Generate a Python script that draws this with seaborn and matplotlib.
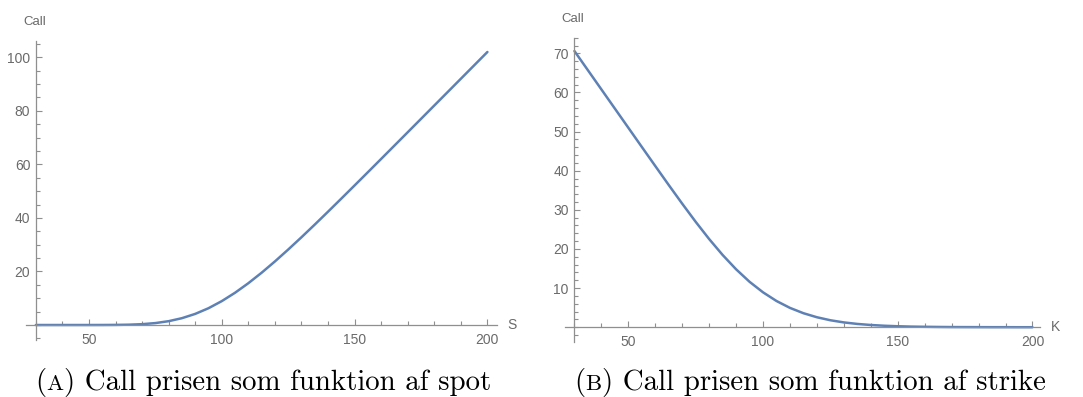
import matplotlib
matplotlib.use("Agg")
import matplotlib.pyplot as plt
import seaborn as sns
from matplotlib.ticker import FixedLocator, MultipleLocator
from matplotlib.offsetbox import TextArea, HPacker, AnnotationBbox

# Call price against spot (strike fixed at 100)
spot = [30, 35, 40, 45, 50, 55, 60, 65, 70, 75, 80, 85, 90, 95, 100,
        105, 110, 115, 120, 125, 130, 135, 140, 145, 150, 155, 160, 165,
        170, 175, 180, 185, 190, 195, 200]
call_spot = [0.0, 0.0, 0.0, 0.0, 0.0, 0.01, 0.04, 0.12, 0.31, 0.72, 1.43,
             2.55, 4.15, 6.27, 8.92, 12.05, 15.61, 19.53, 23.74, 28.18,
             32.78, 37.51, 42.33, 47.21, 52.13, 57.07, 62.04, 67.02, 72.00,
             76.99, 81.99, 86.98, 91.98, 96.98, 101.98]

# Call price against strike (spot fixed at 100)
strike = [30, 35, 40, 45, 50, 55, 60, 65, 70, 75, 80, 85, 90, 95, 100,
          105, 110, 115, 120, 125, 130, 135, 140, 145, 150, 155, 160, 165,
          170, 175, 180, 185, 190, 195, 200]
call_strike = [70.59, 65.69, 60.79, 55.89, 50.99, 46.09, 41.21, 36.35,
               31.58, 26.94, 22.54, 18.47, 14.81, 11.61, 8.92, 6.70, 4.94,
               3.58, 2.55, 1.78, 1.23, 0.84, 0.57, 0.38, 0.25, 0.16, 0.11,
               0.07, 0.04, 0.03, 0.02, 0.01, 0.01, 0.0, 0.0]

spot_ticks = [50, 100, 150, 200]
spot_call_ticks = [20, 40, 60, 80, 100]
strike_ticks = [50, 100, 150, 200]
strike_call_ticks = [10, 20, 30, 40, 50, 60, 70]

captions = [("(", "A", ") Call prisen som funktion af spot"),
            ("(", "B", ") Call prisen som funktion af strike")]

LINE = "#5E81B5"
AXIS = "#8f8f8f"
LABEL = "#6a6a6a"

sns.set_theme(style="white")
plt.rcParams["font.family"] = ["Liberation Sans", "DejaVu Sans"]

W, H = 1083, 397
fig = plt.figure(figsize=(W / 100, H / 100), dpi=100)
fig.patch.set_facecolor("white")

ax1 = fig.add_axes([26 / W, 57 / H, 470.7 / W, 299.3 / H])
ax2 = fig.add_axes([565 / W, 55.3 / H, 475 / W, 304 / H])

sns.lineplot(x=spot, y=call_spot, ax=ax1, color=LINE, linewidth=1.8)
sns.lineplot(x=strike, y=call_strike, ax=ax2, color=LINE, linewidth=1.8)


def style_axes(ax, xlim, ylim, xmaj, xmin, ymaj, ymin, xname):
    ax.set_xlim(*xlim)
    ax.set_ylim(*ylim)
    ax.set_facecolor("white")
    for side in ("top", "right"):
        ax.spines[side].set_visible(False)
    ax.spines["left"].set_position(("data", 30))
    ax.spines["bottom"].set_position(("data", 0))
    for side in ("left", "bottom"):
        ax.spines[side].set_color(AXIS)
        ax.spines[side].set_linewidth(0.9)
    ax.xaxis.set_major_locator(FixedLocator(xmaj))
    ax.xaxis.set_minor_locator(MultipleLocator(xmin))
    ax.yaxis.set_major_locator(FixedLocator(ymaj))
    ax.yaxis.set_minor_locator(MultipleLocator(ymin))
    ax.tick_params(which="both", direction="in", color=AXIS,
                   labelcolor=LABEL, labelsize=10, width=0.8,
                   bottom=True, left=True)
    ax.tick_params(which="major", length=4.5)
    ax.tick_params(which="minor", length=2.6)
    ax.tick_params(axis="x", pad=5.5)
    ax.tick_params(axis="y", pad=4.0)
    ax.set_xlabel("")
    ax.set_ylabel("")
    ax.annotate("Call", xy=(30, 1), xycoords=("data", "axes fraction"),
                xytext=(-1, 9), textcoords="offset points",
                ha="center", va="bottom", fontsize=9.5, color=LABEL)
    ax.annotate(xname, xy=(1, 0), xycoords=("axes fraction", "data"),
                xytext=(8, 0), textcoords="offset points",
                ha="left", va="center", fontsize=10, color=LABEL)


style_axes(ax1, (26.3, 203.5), (-5.6, 106.2), spot_ticks, 10,
           spot_call_ticks, 5, "S")
style_axes(ax2, (26.5, 202.8), (-3.7, 74.0), strike_ticks, 10,
           strike_call_ticks, 2, "K")

# Captions with a small-caps panel letter
big = dict(fontfamily="cmr10", fontsize=20.8, color="black")
small = dict(fontfamily="cmr10", fontsize=16.4, color="black")
for (left, letter, rest), xc in zip(captions, (263 / W, 810 / W)):
    pack = HPacker(children=[TextArea(left, textprops=big),
                             TextArea(letter, textprops=small),
                             TextArea(rest, textprops=big)],
                   align="baseline", pad=0, sep=0)
    ab = AnnotationBbox(pack, (xc, 0.0), xycoords="figure fraction",
                        box_alignment=(0.5, 0.0), frameon=False, pad=0)
    fig.add_artist(ab)

fig.savefig("out.png", dpi=100, facecolor="white")
